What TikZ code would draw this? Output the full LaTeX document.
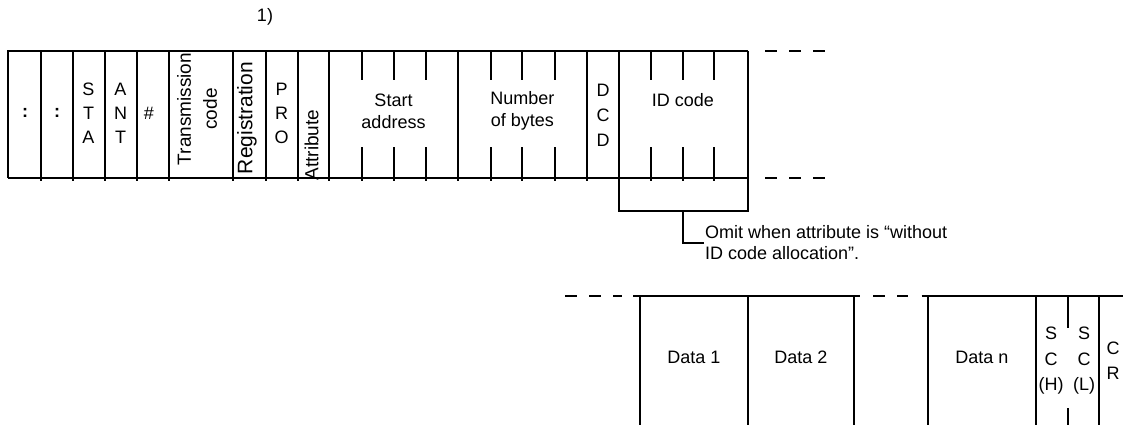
\documentclass[tikz,border=0pt]{standalone}
\usepackage{fontspec}
\setmainfont{Liberation Sans}

\begin{document}
\begin{tikzpicture}[x=0.5pt,y=-0.5pt,line width=1.15pt,
  lbl/.style={inner sep=0pt,align=center,font=\fontsize{9}{10.8}\selectfont},
  stk/.style={lbl,font=\fontsize{9}{12}\selectfont},
  vlbl/.style={lbl,rotate=90,font=\fontsize{9.5}{13}\selectfont},
  gap/.style={dash pattern=on 6pt off 6pt}]
  \useasboundingbox (0,0) rectangle (1126,425);
  % upper frame
  \draw (8,178) -- (8,51) -- (748,51) (8,178) -- (748,178);
  \foreach \x in {40.7,72.7,105,136.7,169.3,233,265.7,297.7,329.3,457.7,587}
    \draw (\x,51) -- (\x,181);
  \foreach \x in {361.7,394,425.7,490.7,522.3,555,650.7,682.7,714.3}{
    \draw (\x,51) -- (\x,80);
    \draw (\x,147) -- (\x,181);}
  \draw (618.7,51) -- (618.7,210.7) -- (747.7,210.7) -- (747.7,51);
  \coordinate (brk) at (682.7,210.7);
  \draw[gap] (765,51) -- (828,51) (765,178) -- (828,178);
  \node[lbl] (note1) at (265,17) {1)};
  \node[lbl] (colon1) at (25,113) {\textbf{:}};
  \node[lbl] (colon2) at (57,113) {\textbf{:}};
  \node[stk] (sta) at (88.5,113) {S\\T\\A};
  \node[stk] (ant) at (120.5,113) {A\\N\\T};
  \node[lbl] (hash) at (149,113) {\#};
  \node[vlbl] (tcode) at (197,109) {Transmission\\code};
  \node[vlbl,font=\fontsize{10.5}{13}\selectfont] (reg) at (247,118) {Registration};
  \node[stk] (pro) at (281.7,113) {P\\R\\O};
  \node[vlbl] (attr) at (311.7,145) {Attribute};
  \node[lbl] (saddr) at (393.5,111) {Start\\address};
  \node[lbl] (nbytes) at (522.3,111) {Number\\of bytes};
  \node[stk,font=\fontsize{9}{12.5}\selectfont] (dcd) at (603,115) {D\\C\\D};
  \node[lbl] (idc) at (683,100) {ID code};
  % omission note
  \node[lbl,align=left,anchor=west,font=\fontsize{9}{10.5}\selectfont]
    (omit) at (704,242.7) {Omit when attribute is “without\\ID code allocation”.};
  \draw (brk) |- (omit.west);
  % lower frame
  \draw[gap] (565,296) -- (622,296) (873,296) -- (908,296);
  \draw (633,296) -- (860,296) (921.7,296) -- (1123,296);
  \foreach \x in {640,747.7,854.3,928.3,1035.7,1099.3}
    \draw (\x,296) -- (\x,425);
  \draw (1067.7,296) -- (1067.7,328) (1067.7,408) -- (1067.7,425);
  \node[lbl] (d1) at (694,357) {Data 1};
  \node[lbl] (d2) at (801,357) {Data 2};
  \node[lbl] (dn) at (982,357) {Data n};
  \node[stk,font=\fontsize{9}{12.75}\selectfont] (sch) at (1051,361) {S\\C\\(H)};
  \node[stk,font=\fontsize{9}{12.75}\selectfont] (scl) at (1084,361) {S\\C\\(L)};
  \node[stk,font=\fontsize{9}{12.5}\selectfont] (cr) at (1113,360.5) {C\\R};
\end{tikzpicture}
\end{document}
